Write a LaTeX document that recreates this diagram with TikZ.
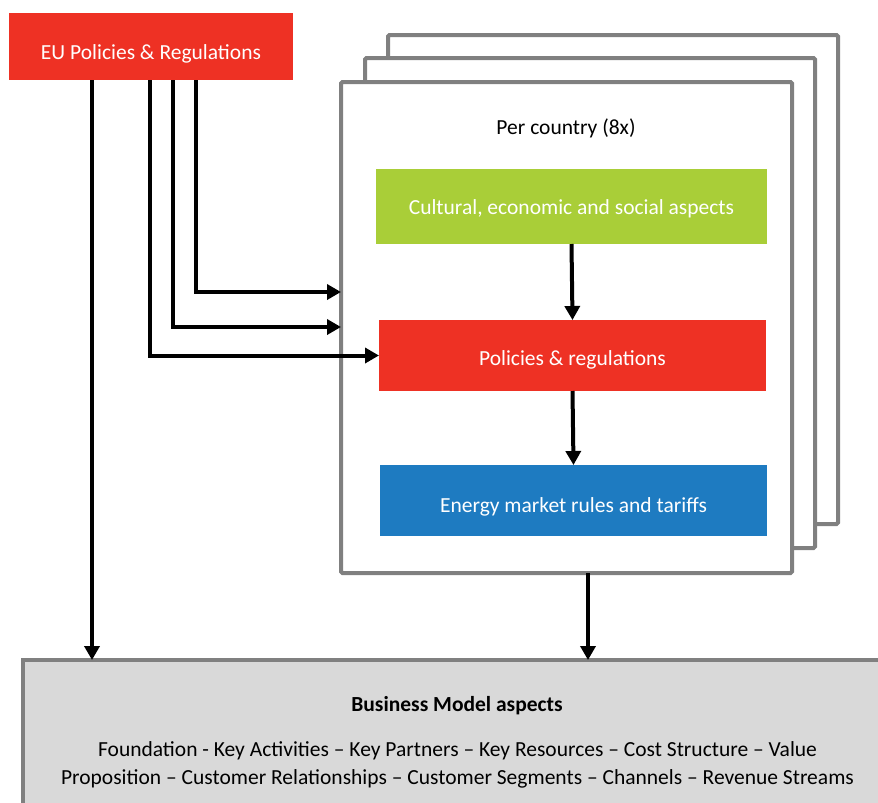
\documentclass[tikz,border=0pt]{standalone}
\usepackage{fontspec}
\setmainfont{Carlito}
\usetikzlibrary{arrows.meta}
\definecolor{eured}{HTML}{EE3124}
\definecolor{culgreen}{HTML}{A9CE38}
\definecolor{mktblue}{HTML}{1E7BC1}
\definecolor{framegray}{HTML}{808080}
\definecolor{bmfill}{HTML}{D9D9D9}
\newcommand{\dfont}{\fontsize{21.5}{28}\selectfont}
\tikzset{
  colbox/.style={rectangle, draw=none, text=white, font=\dfont, inner sep=0pt, outer sep=0pt, text depth=0pt},
  frame/.style={rectangle, draw=framegray, fill=white, line width=4pt, inner sep=0pt, outer sep=0pt, rounded corners=1.5pt},
  arr/.style={draw=black, line width=4pt, -{Triangle[length=14pt,width=15pt]}},
}
\begin{document}
\begin{tikzpicture}[x=1pt,y=-1pt]
\useasboundingbox (0,0) rectangle (878,803);
\clip (0,0) rectangle (878,803);

% stacked country frames, back to front
\node[frame, minimum width=450pt, minimum height=489pt] (back) at (613,279.5) {};
\node[frame, minimum width=450pt, minimum height=490pt] (mid) at (590,303) {};
\node[frame, minimum width=451pt, minimum height=491pt] (front) at (566.5,327.5) {};
\node[font=\dfont, anchor=base] (percountry) at (566,134) {Per country (8x)};

% coloured blocks
\node[colbox, fill=eured, text height=26pt, minimum width=284pt, minimum height=67pt] (eu) at (151,46.5) {EU Policies \& Regulations};
\node[colbox, fill=culgreen, text height=16pt, minimum width=391pt, minimum height=75pt] (green) at (571.5,206.5) {Cultural, economic and social aspects};
\node[colbox, fill=eured, text height=20.5pt, minimum width=387pt, minimum height=71pt] (red) at (572.5,355.5) {Policies \& regulations};
\node[colbox, fill=mktblue, text height=23pt, minimum width=387pt, minimum height=71pt] (blue) at (573.5,500.5) {Energy market rules and tariffs};

% business model box
\node[rectangle, draw=framegray, fill=bmfill, line width=4pt, inner sep=0pt, outer sep=0pt,
      minimum width=880pt, minimum height=170pt, anchor=north west] (bm) at (23,660) {};
\node[font=\bfseries\dfont, anchor=base] (bmtitle) at (457,711) {Business Model aspects};
\node[font=\dfont, align=center, anchor=base] (bmtext) at (457.5,784)
  {Foundation - Key Activities – Key Partners – Key Resources – Cost Structure – Value\\
   Proposition – Customer Relationships – Customer Segments – Channels – Revenue Streams};

% connector start points under the EU block
\coordinate (e1) at ([xshift=83pt]eu.south west);
\coordinate (e2) at ([xshift=141pt]eu.south west);
\coordinate (e3) at ([xshift=164pt]eu.south west);
\coordinate (e4) at ([xshift=187pt]eu.south west);
\coordinate (h1) at (0,292);
\coordinate (h2) at (0,327);
\coordinate (f1) at ([xshift=21.5pt]front.south);

% connectors
\draw[arr] (e1) -- (e1 |- bm.north);
\draw[arr] (e4) |- (front.west |- h1);
\draw[arr] (e3) |- (front.west |- h2);
\draw[arr] (e2) |- (red.west);
\draw[arr] (green.south) -- (red.north);
\draw[arr] (red.south) -- (blue.north);
\draw[arr] (f1) -- (f1 |- bm.north);
\end{tikzpicture}
\end{document}
